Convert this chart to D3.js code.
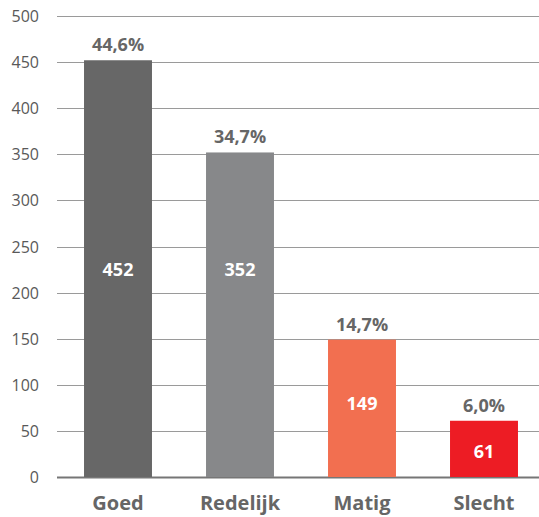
<!DOCTYPE html>
<html>
<head>
<meta charset="utf-8">
<script src="https://cdn.jsdelivr.net/npm/d3@7"></script>
<style>
  body { margin: 0; background: #fff; }
  text { font-family: "Open Sans", sans-serif; }
</style>
</head>
<body>
<svg id="chart" width="539" height="517"></svg>
<script>
const categories = ["Goed", "Redelijk", "Matig", "Slecht"]
const values = [452, 352, 149, 61]
const percents = ["44,6%", "34,7%", "14,7%", "6,0%"]
// where the count labels sit inside the bars, in axis units
const countLabelAt = [226, 226, 80, 28]
const colors = ["#676767", "#87888a", "#f26f50", "#ed1c24"]
const yTicks = [0, 50, 100, 150, 200, 250, 300, 350, 400, 450, 500]

const svg = d3.select("#chart")

let yScale = d3.scaleLinear()
                .domain([0, 500])
                .range([477, 16])

let xScale = d3.scaleBand()
                .domain(categories)
                .range([57, 545])
                .paddingInner(0.443)
                .paddingOuter(0.2215)

// gridlines
svg.append("g").selectAll("line")
    .data(yTicks)
    .join("line")
    .attr("x1", 57).attr("x2", 539)
    .attr("y1", d => Math.round(yScale(d)) + 0.5)
    .attr("y2", d => Math.round(yScale(d)) + 0.5)
    .style("stroke", d => d === 0 ? "#767676" : "#9a9a9a")
    .style("stroke-width", d => d === 0 ? 2 : 1)

// y tick labels
svg.append("g").selectAll("text")
    .data(yTicks)
    .join("text")
    .attr("x", 39)
    .attr("y", d => yScale(d) + 6)
    .attr("text-anchor", "end")
    .style("font-size", "16px")
    .style("fill", "#595959")
    .text(d => d)

// bars
svg.append("g").selectAll("rect")
    .data(values)
    .join("rect")
    .attr("x", (d, i) => xScale(categories[i]))
    .attr("width", xScale.bandwidth())
    .attr("y", d => yScale(d))
    .attr("height", d => yScale(0) - yScale(d))
    .style("fill", (d, i) => colors[i])

// count labels inside
svg.append("g").selectAll("text")
    .data(values)
    .join("text")
    .attr("x", (d, i) => xScale(categories[i]) + xScale.bandwidth() / 2)
    .attr("y", (d, i) => yScale(countLabelAt[i]) + 7)
    .attr("text-anchor", "middle")
    .style("font-size", "18px")
    .style("font-weight", "bold")
    .style("fill", "#ffffff")
    .text(d => d)

// percent labels
svg.append("g").selectAll("text")
    .data(values)
    .join("text")
    .attr("x", (d, i) => xScale(categories[i]) + xScale.bandwidth() / 2)
    .attr("y", d => yScale(d) - 9)
    .attr("text-anchor", "middle")
    .style("font-size", "18px")
    .style("font-weight", "bold")
    .style("fill", "#666666")
    .text((d, i) => percents[i])

// category labels
svg.append("g").selectAll("text")
    .data(categories)
    .join("text")
    .attr("x", d => xScale(d) + xScale.bandwidth() / 2)
    .attr("y", 510)
    .attr("text-anchor", "middle")
    .style("font-size", "20px")
    .style("font-weight", "bold")
    .style("fill", "#666666")
    .text(d => d)
</script>
</body>
</html>
